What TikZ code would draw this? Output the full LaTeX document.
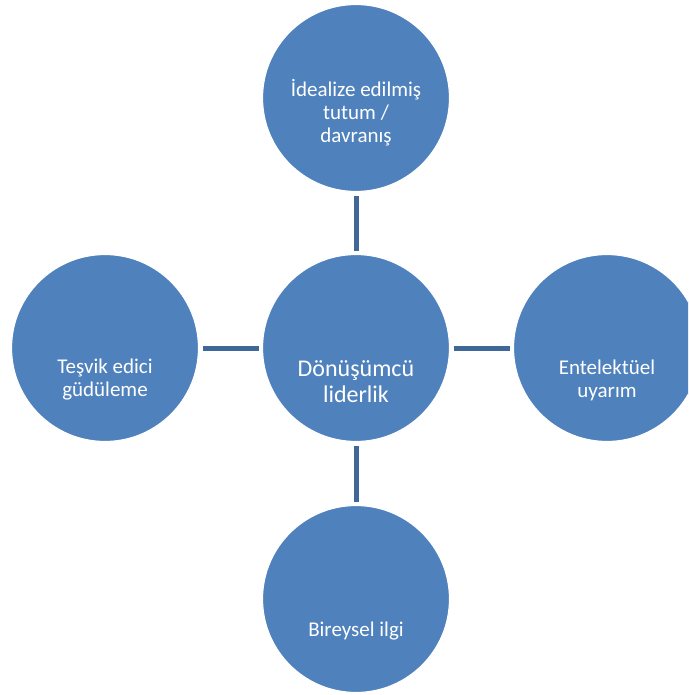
\documentclass[tikz,border=0pt]{standalone}
\usepackage{fontspec}
\setmainfont{Carlito}
\usepackage{xcolor}
\definecolor{circblue}{HTML}{4F81BD}
\definecolor{linkblue}{HTML}{3F6797}
\usetikzlibrary{calc}

\begin{document}
\begin{tikzpicture}[x=1pt, y=-1pt,
	    circ/.style={circle, fill=circblue, draw=white, line width=1.2pt,
	      minimum size=187pt, inner sep=0pt, outer sep=0pt},
	    link/.style={linkblue, line width=5pt, shorten <=4pt, shorten >=4pt},
	    txt/.style={white, align=center, inner sep=0pt,
	      font=\fontsize{21}{23}\selectfont},
	    bigtxt/.style={txt, font=\fontsize{24}{26}\selectfont}
	  ]
	  \clip (0,0) rectangle (688,695);
	  \coordinate (C) at (356,348);  % middle
	  \coordinate (T) at (356,98);   % top
	  \coordinate (L) at (105,348);  % left
	  \coordinate (R) at (607,348);  % right
	  \coordinate (B) at (356,599);  % bottom

	  \node[circ] (mid)   at (C) {};
	  \node[circ] (top)   at (T) {};
	  \node[circ] (left)  at (L) {};
	  \node[circ] (right) at (R) {};
	  \node[circ] (bot)   at (B) {};

	  \draw[link] (top) -- (mid);
	  \draw[link] (left) -- (mid);
	  \draw[link] (mid) -- (right);
	  \draw[link] (mid) -- (bot);

	  \node[bigtxt] (t-mid)   at ($(C)+(0,34)$) {Dönüşümcü\\liderlik};
	  \node[txt]    (t-top)   at ($(T)+(0,15)$) {İdealize edilmiş\\tutum /\\davranış};
	  \node[txt]    (t-left)  at ($(L)+(0,32)$) {Teşvik edici\\güdüleme};
	  \node[txt]    (t-right) at ($(R)+(0,32)$) {Entelektüel\\uyarım};
	  \node[txt]    (t-bot)   at ($(B)+(0,32)$) {Bireysel ilgi};
	\end{tikzpicture}
\end{document}
